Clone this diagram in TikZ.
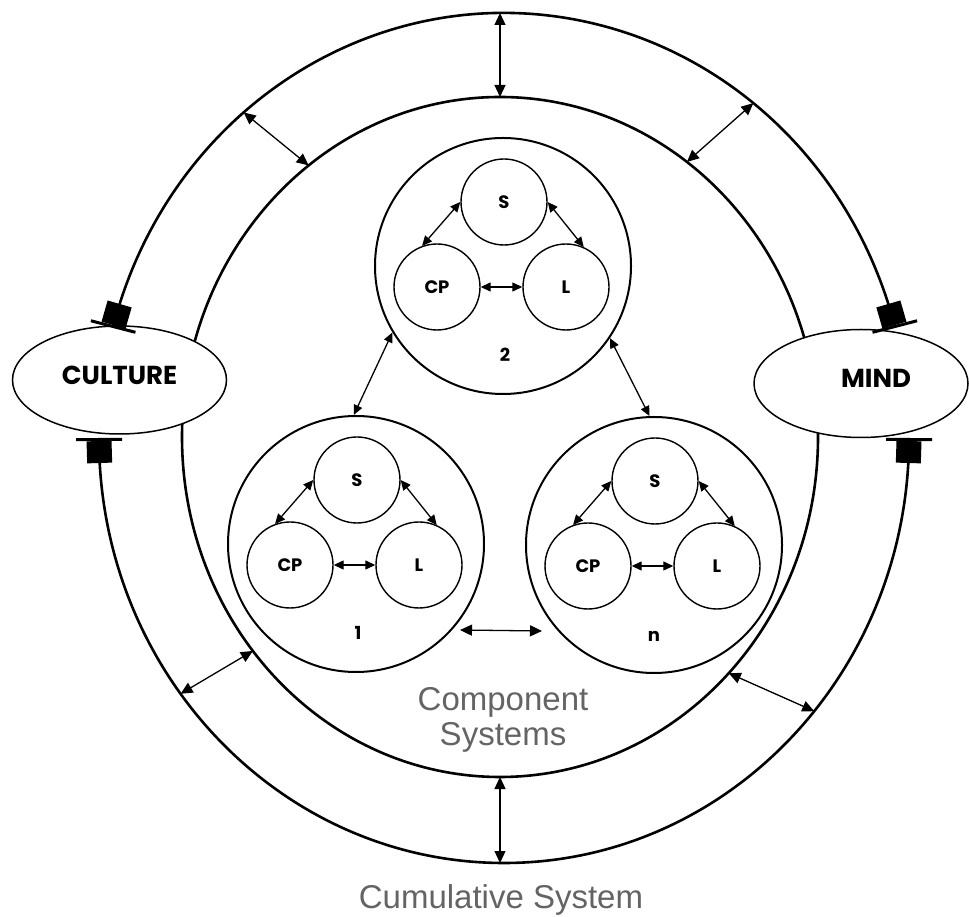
\documentclass[tikz,border=0pt]{standalone}
\usepackage{fontspec}
\setmainfont{Liberation Sans}
\newfontfamily\geofont{Poppins}
\usetikzlibrary{arrows.meta,bending,shapes.geometric,calc}

\definecolor{labelgray}{RGB}{100,100,100}

\tikzset{
    hat/.tip={Rectangle[length=22pt,width=25pt]Rectangle[length=3pt,width=46pt]},
    ring/.style={line width=2.6pt},
    sysbox/.style={circle, draw, line width=2pt, minimum size=256pt, inner sep=0pt},
    partbox/.style={circle, draw, line width=1.4pt, minimum size=86pt, inner sep=0pt,
        font=\geofont\bfseries\fontsize{18}{18}\selectfont},
    numtext/.style={font=\geofont\bfseries\fontsize{18}{18}\selectfont},
    bigbox/.style={ellipse, draw, fill=white, line width=1.5pt, minimum width=214pt,
        minimum height=108pt, inner sep=0pt},
    bigtext/.style={font=\geofont\bfseries\fontsize{26}{26}\selectfont},
    graytext/.style={text=labelgray, font=\fontsize{33}{35}\selectfont},
    link/.style={line width=1.3pt, {Triangle[length=10pt,width=9pt]}-{Triangle[length=10pt,width=9pt]}},
    ringlink/.style={line width=1.3pt, {Triangle[length=12pt,width=11pt]}-{Triangle[length=12pt,width=11pt]}}
}

\begin{document}
\begin{tikzpicture}[x=1pt,y=1pt]
    \useasboundingbox (0,0) rectangle (969,916);

    \coordinate (octr) at (504,478);
    \coordinate (ictr) at (500,479);

    % component systems ring
    \draw[ring] (ictr) ellipse [x radius=318, y radius=340];

    \node[bigbox] (culture) at (119.5,536) {};
    \node[bigtext] (cultext) at ($(culture)+(0,5)$) {CULTURE};
    \node[bigbox] (mind) at (861,532.5) {};
    \node[bigtext] (mindtext) at ($(mind)+(15,5)$) {MIND};

    % cumulative system ring
    \coordinate (cultop) at ($(octr)+(165:405 and 425)$);
    \coordinate (culbot) at ($(octr)+(180:405 and 425)$);
    \draw[ring, {hat}-{hat}] (cultop) arc[start angle=165, end angle=15, x radius=405, y radius=425];
    \draw[ring, {hat}-{hat}] (culbot) arc[start angle=180, end angle=360, x radius=405, y radius=425];

    \coordinate (otop) at ($(octr)+(90:405 and 425)$);
    \coordinate (itop) at ($(ictr)+(90:318 and 340)$);
    \coordinate (oul) at ($(octr)+(130:405 and 425)$);
    \coordinate (iul) at ($(ictr)+(127:318 and 340)$);
    \coordinate (our) at ($(octr)+(52:405 and 425)$);
    \coordinate (iur) at ($(ictr)+(54:318 and 340)$);
    \coordinate (oll) at ($(octr)+(217:405 and 425)$);
    \coordinate (ill) at ($(ictr)+(219:318 and 340)$);
    \coordinate (olr) at ($(octr)+(320:405 and 425)$);
    \coordinate (ilr) at ($(ictr)+(316:318 and 340)$);
    \coordinate (obot) at ($(octr)+(270:405 and 425)$);
    \coordinate (ibot) at ($(ictr)+(270:318 and 340)$);
    \draw[ringlink] (itop) -- (itop |- otop);
    \draw[ringlink] (oul) -- (iul);
    \draw[ringlink] (iur) -- (our);
    \draw[ringlink] (oll) -- (ill);
    \draw[ringlink] (ilr) -- (olr);
    \draw[ringlink] (ibot) -- (ibot |- obot);

    % system 2
    \node[sysbox] (c2) at (503,650) {};
    \node[partbox] (s2) at ($(c2)+(1,64)$) {S};
    \node[partbox] (cp2) at ($(c2)+(-66,-21)$) {CP};
    \node[partbox] (l2) at ($(c2)+(63,-21)$) {L};
    \node[numtext] (lab2) at ($(c2)+(2,-89)$) {2};
    \draw[link] (s2.180) -- (cp2.110);
    \draw[link] (s2.0) -- (l2.66);
    \draw[link] (cp2) -- (l2);

    % system 1
    \node[sysbox] (c1) at (356,372) {};
    \node[partbox] (s1) at ($(c1)+(1,64)$) {S};
    \node[partbox] (cp1) at ($(c1)+(-66,-21)$) {CP};
    \node[partbox] (l1) at ($(c1)+(63,-21)$) {L};
    \node[numtext] (lab1) at ($(c1)+(2,-89)$) {1};
    \draw[link] (s1.180) -- (cp1.110);
    \draw[link] (s1.0) -- (l1.66);
    \draw[link] (cp1) -- (l1);

    % system n
    \node[sysbox] (cn) at (654,371) {};
    \node[partbox] (sn) at ($(cn)+(1,64)$) {S};
    \node[partbox] (cpn) at ($(cn)+(-66,-21)$) {CP};
    \node[partbox] (ln) at ($(cn)+(63,-21)$) {L};
    \node[numtext] (labn) at ($(cn)+(0,-91)$) {n};
    \draw[link] (sn.180) -- (cpn.110);
    \draw[link] (sn.0) -- (ln.66);
    \draw[link] (cpn) -- (ln);

    \draw[link] (c2.211) -- (c1.91);
    \draw[link] (c2.326) -- (cn.92);
    \coordinate (gap1) at ($(c1)+(104,-86)$);
    \coordinate (gapn) at ($(cn)+(-112,-86)$);
    \draw[ringlink] (gap1) -- (gapn);

    \node[graytext, align=center] (comp) at (503,196) {Component\\Systems};
    \node[graytext, anchor=base] (cumul) at (501,8) {Cumulative System};
\end{tikzpicture}
\end{document}
